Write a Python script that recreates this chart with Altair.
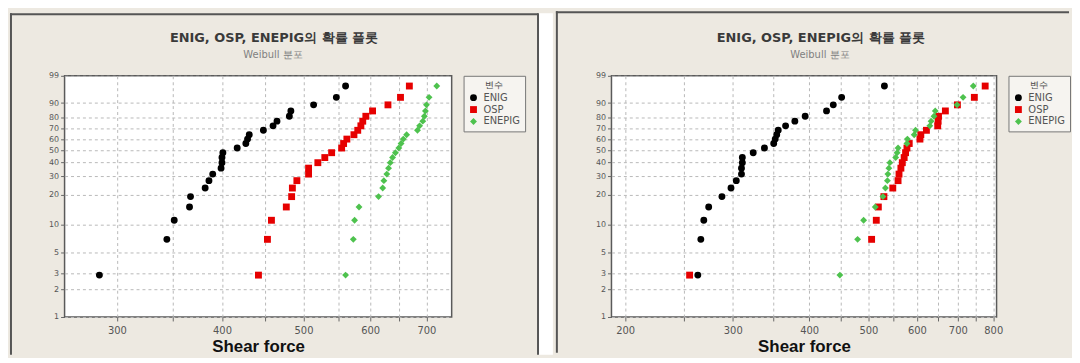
import math
import altair as alt
import pandas as pd

# ---------------- data ----------------
series_names = ["ENIG", "OSP", "ENEPIG"]
series_colors = ["#000000", "#E60000", "#4EC24E"]
series_shapes = ["circle", "square", "diamond"]
series_sizes = [48, 48, 72]

# median-rank plotting positions (percent) of the 24 specimens
percent = [2.87, 6.97, 11.07, 15.16, 19.26, 23.36, 27.46, 31.56, 35.66, 39.75,
           43.85, 47.95, 52.05, 56.15, 60.25, 64.34, 68.44, 72.54, 76.64, 80.74,
           84.84, 88.93, 93.03, 97.13]

left_enig = [286, 344, 351, 366, 367, 382, 386, 390, 399, 400, 400, 401,
             417, 427, 429, 431, 448, 460, 465, 481, 483, 514, 547, 561]
left_osp = [442, 453, 458, 477, 484, 485, 491, 507, 507, 520, 530, 540,
            555, 558, 563, 574, 580, 585, 588, 593, 604, 630, 652, 668]
left_enepig = [561, 573, 575, 582, 614, 621, 623, 628, 631, 634, 638, 643,
               649, 653, 657, 663, 683, 687, 693, 696, 698, 700, 705, 720]

right_enig = [263, 266, 269, 274, 288, 298, 304, 310, 310, 311, 311, 324,
              338, 350, 352, 354, 356, 366, 379, 394, 427, 438, 452, 531]
right_osp = [255, 506, 515, 519, 530, 548, 559, 561, 565, 568, 572, 575,
             578, 583, 607, 609, 622, 649, 650, 651, 668, 699, 745, 776]
right_enepig = [449, 480, 491, 513, 528, 533, 537, 538, 540, 542, 554, 557,
                559, 578, 579, 594, 597, 630, 633, 640, 643, 698, 714, 742]

y_tick_labels = [1, 2, 3, 5, 10, 20, 30, 40, 50, 60, 70, 80, 90, 99]
left_x_ticks = [300, 350, 400, 450, 500, 550, 600, 650, 700]
right_x_ticks = [200, 250, 300, 350, 400, 450, 500, 550, 600, 650, 700, 750, 800]
left_x_domain = [260, 750]
right_x_domain = [190, 810]

title_text = "ENIG, OSP, ENEPIG의 확률 플롯"
subtitle_text = "Weibull 분포"
x_title = "Shear force"
legend_title = "변수"


def weibull_pos(p):
    return math.log(-math.log(1 - p / 100.0))


y_domain = [weibull_pos(1), weibull_pos(99)]
y_tick_pos = [weibull_pos(p) for p in y_tick_labels]

BG = "#EDE9E1"
BORDER = "#555555"
FONT = "DejaVu Sans"


def make_df(enig, osp, enepig):
    rows = []
    for name, vals in zip(series_names, [enig, osp, enepig]):
        for v, p in zip(vals, percent):
            rows.append({"force": v, "pct": p, "series": name})
    return pd.DataFrame(rows)


one = pd.DataFrame({"k": [0]})


def panel(df, x_domain, x_ticks, width, top, left_edge, right_edge, strip, title_x):
    height = 243
    bottom = 352 - top  # bottom of decorations (page y 352)
    page_top = 8 - top

    points = alt.Chart(df).transform_calculate(
        wb="log(-log(1 - datum.pct/100))"
    ).mark_point(filled=True, opacity=1).encode(
        x=alt.X("force:Q",
                scale=alt.Scale(type="log", domain=x_domain, nice=False),
                axis=alt.Axis(values=x_ticks, format="d",
                              labelExpr="datum.value % 100 == 0 ? datum.label : ''",
                              title=x_title, labelFontSize=10, labelPadding=5,
                              titleFont="Liberation Sans", titleFontSize=17,
                              titleFontWeight="bold", titleColor="#111111",
                              titlePadding=3)),
        y=alt.Y("wb:Q",
                scale=alt.Scale(domain=y_domain, nice=False, zero=False),
                axis=alt.Axis(values=y_tick_pos, title=None,
                              labelExpr="format(100*(1-exp(-exp(datum.value))), '.0f')",
                              labelFontSize=8, labelPadding=2)),
        color=alt.Color("series:N",
                        scale=alt.Scale(domain=series_names, range=series_colors),
                        legend=alt.Legend(title=legend_title)),
        shape=alt.Shape("series:N",
                        scale=alt.Scale(domain=series_names, range=series_shapes),
                        legend=alt.Legend(title=legend_title)),
        size=alt.Size("series:N",
                      scale=alt.Scale(domain=series_names, range=series_sizes),
                      legend=None),
    )

    layers = []
    if strip:
        layers.append(alt.Chart(one).mark_rect(color="white").encode(
            x=alt.value(right_edge + 1), x2=alt.value(right_edge + 15),
            y=alt.value(page_top), y2=alt.value(bottom)))
        layers.append(alt.Chart(one).mark_rule(color=BORDER, strokeWidth=2).encode(
            x=alt.value(right_edge), y=alt.value(page_top), y2=alt.value(bottom)))
    # left border
    layers.append(alt.Chart(one).mark_rule(color=BORDER, strokeWidth=2).encode(
        x=alt.value(left_edge + 1), y=alt.value(page_top), y2=alt.value(bottom)))
    # top border
    layers.append(alt.Chart(one).mark_rule(color=BORDER, strokeWidth=2).encode(
        x=alt.value(left_edge), x2=alt.value(right_edge),
        y=alt.value(page_top + 1)))
    # titles
    layers.append(alt.Chart(one).mark_text(
        font=FONT, fontSize=13, fontWeight="bold", color="#3a3a3a",
        align="center", baseline="middle").encode(
        x=alt.value(title_x), y=alt.value(-38), text=alt.value(title_text)))
    layers.append(alt.Chart(one).mark_text(
        font=FONT, fontSize=10, color="#808080",
        align="center", baseline="middle").encode(
        x=alt.value(title_x - 1), y=alt.value(-21), text=alt.value(subtitle_text)))
    layers.append(points)

    return alt.layer(*layers).properties(width=width, height=height)


left = panel(make_df(left_enig, left_osp, left_enepig), left_x_domain, left_x_ticks,
             width=390, top=71, left_edge=-55, right_edge=477, strip=True, title_x=211)
right = panel(make_df(right_enig, right_osp, right_enepig), right_x_domain, right_x_ticks,
              width=388, top=73, left_edge=-56, right_edge=461, strip=False, title_x=211)

chart = alt.hconcat(left, right, spacing=0).resolve_scale(
    x="independent", y="independent", color="independent", shape="independent",
    size="independent"
).properties(
    background=BG, padding=0
).configure_view(
    stroke="#5a5a5a", strokeWidth=1.5, fill="white"
).configure_axis(
    labelFont=FONT, labelColor="#555555", tickColor="#666666", tickSize=4,
    domain=False, gridColor="#b8b8b8", gridDash=[3, 3], gridWidth=1
).configure_legend(
    orient="right", offset=12, strokeColor="#777777", fillColor="#F6F4F0",
    padding=5, titleFont=FONT, titleFontSize=9, titleFontWeight="normal",
    titleColor="#444444", titleAnchor="middle", titleAlign="center", titlePadding=3,
    labelFont=FONT, labelFontSize=10, labelColor="#555555",
    symbolSize=28, rowPadding=2, labelOffset=5
)

chart.save("out.html", embed_options={"renderer": "svg", "actions": False})
